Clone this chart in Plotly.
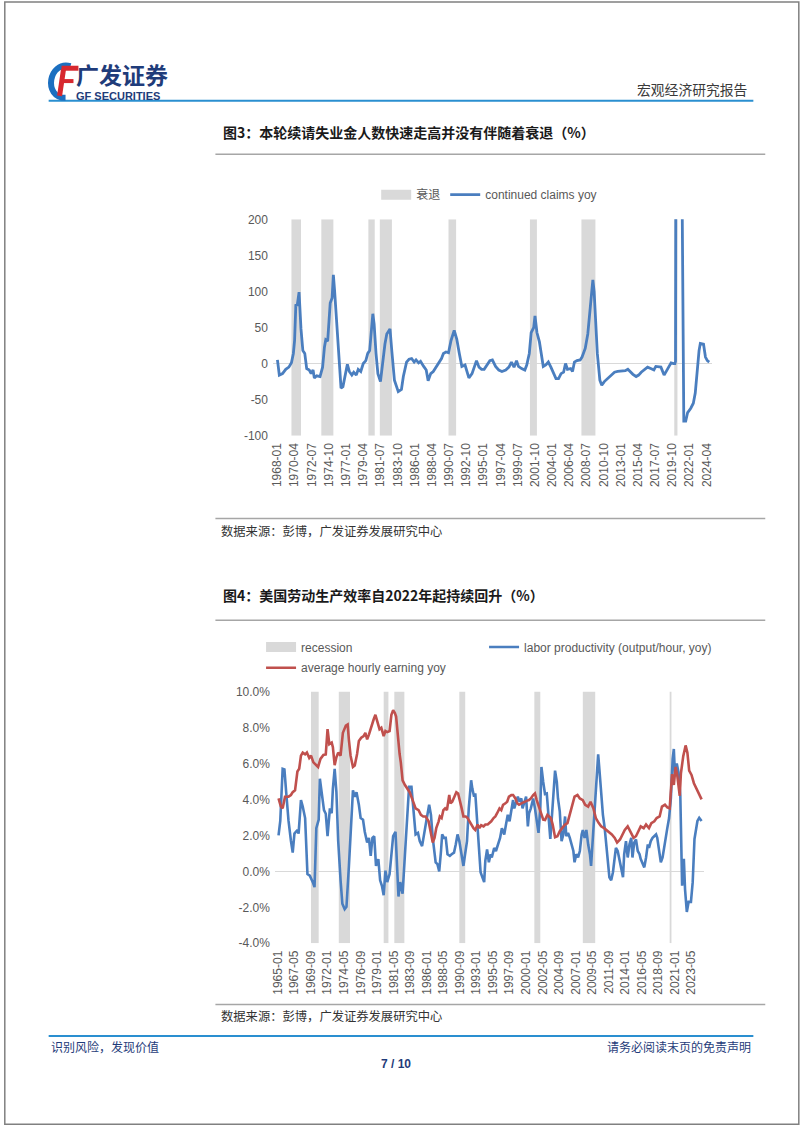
import plotly.graph_objects as go
import pandas as pd

# ---------------- data: chart 1 (continued claims yoy, %) ----------------
claims_dates = [
    "1968-01", "1968-04", "1968-09", "1969-02", "1969-07", "1969-11", "1970-02", "1970-04", "1970-06", "1970-08",
    "1970-11", "1970-12", "1971-02", "1971-05", "1971-08", "1971-11", "1972-03", "1972-06", "1972-09", "1972-11",
    "1973-03", "1973-08", "1973-12", "1974-03", "1974-05", "1974-08", "1974-12", "1975-03", "1975-05", "1975-07",
    "1975-10", "1976-01", "1976-05", "1976-08", "1976-11", "1977-03", "1977-06", "1977-10", "1978-01", "1978-05",
    "1978-08", "1978-12", "1979-04", "1979-08", "1979-11", "1980-02", "1980-07", "1980-09", "1980-12", "1981-03",
    "1981-07", "1981-10", "1982-02", "1982-05", "1982-10", "1983-01", "1983-05", "1983-11", "1984-04", "1984-07",
    "1984-12", "1985-04", "1985-08", "1985-12", "1986-03", "1986-07", "1986-10", "1987-03", "1987-07", "1987-10",
    "1988-02", "1988-06", "1988-10", "1989-02", "1989-07", "1989-10", "1990-02", "1990-06", "1990-10", "1991-03",
    "1991-07", "1991-11", "1992-03", "1992-08", "1992-11", "1993-02", "1993-07", "1993-11", "1994-02", "1994-06",
    "1994-10", "1995-02", "1995-07", "1995-11", "1996-03", "1996-08", "1997-01", "1997-06", "1997-12", "1998-05",
    "1998-09", "1999-01", "1999-05", "1999-08", "2000-01", "2000-06", "2000-09", "2001-01", "2001-04", "2001-08",
    "2001-10", "2002-01", "2002-05", "2002-08", "2002-11", "2003-03", "2003-07", "2003-11", "2004-03", "2004-07",
    "2004-11", "2005-03", "2005-07", "2005-10", "2006-01", "2006-06", "2006-09", "2006-12", "2007-04", "2007-09",
    "2007-12", "2008-05", "2008-09", "2009-01", "2009-03", "2009-05", "2009-07", "2009-09", "2009-12", "2010-04",
    "2010-07", "2010-11", "2011-04", "2011-09", "2012-03", "2012-08", "2013-03", "2013-08", "2013-12", "2014-04",
    "2014-08", "2015-01", "2015-05", "2015-09", "2016-02", "2016-07", "2016-12", "2017-05", "2017-08", "2017-12",
    "2018-04", "2018-09", "2019-01", "2019-05", "2019-08", "2019-12", "2020-02", "2020-03", "2020-04", "2020-05",
    "2020-10", "2020-12", "2021-02", "2021-03", "2021-04", "2021-07", "2021-10", "2022-03", "2022-07", "2022-10",
    "2023-01", "2023-04", "2023-06", "2023-11", "2024-02", "2024-05", "2024-08",
]
claims_yoy = [
    5, -16, -14, -8, -5, 1, 14, 32, 82, 80,
    99, 78, 48, 18, 14, -7, -9, -14, -9, -20,
    -17, -18, -5, 23, 33, 31, 84, 91, 123, 100,
    59, 9, -34, -32, -16, -1, -11, -16, -12, -16,
    -8, -11, 0, 4, 14, 18, 69, 55, 14, -14,
    -25, 0, 27, 41, 48, 16, -23, -39, -36, -18,
    2, 6, 7, 2, 5, 1, 3, -4, -9, -24,
    -14, -11, -5, 0, 7, 14, 16, 15, 32, 46,
    34, 14, -4, -2, -11, -20, -14, -5, 4, -5,
    -8, -8, -2, 4, 5, -4, -9, -11, -9, -5,
    2, -5, 4, -4, -7, -9, -2, 14, 43, 50,
    66, 43, 30, 11, -4, -2, 2, -5, -14, -21,
    -21, -14, -12, 0, -8, -7, -11, 2, 4, 5,
    9, 21, 41, 78, 100, 116, 100, 59, 14, -23,
    -30, -25, -21, -17, -12, -11, -10, -10, -8, -12,
    -15, -18, -16, -12, -8, -5, -7, -9, -4, -5,
    -5, -16, -9, -4, 1, 0, 0, 3, 700, 1000,
    600, 300, 150, 40, -80, -80, -68, -62, -55, -41,
    -9, 18, 28, 27, 9, 4, 2,
]
claims_ticks = [
    "1968-01", "1970-04", "1972-07", "1974-10", "1977-01", "1979-04", "1981-07", "1983-10", "1986-01",
    "1988-04", "1990-07", "1992-10", "1995-01", "1997-04", "1999-07", "2001-10", "2004-01", "2006-04",
    "2008-07", "2010-10", "2013-01", "2015-04", "2017-07", "2019-10", "2022-01", "2024-04",
]
claims_rec_start = ["1969-11", "1973-10", "1979-12", "1981-06", "1990-06", "2001-02", "2007-11", "2020-01"]
claims_rec_end = ["1971-01", "1975-04", "1980-09", "1982-12", "1991-05", "2001-12", "2009-08", "2020-05"]
y1_vals = [-100, -50, 0, 50, 100, 150, 200]
y1_text = ["-100", "-50", "0", "50", "100", "150", "200"]

# ---------------- data: chart 2 (labor productivity & AHE yoy, %) ----------------
prod_dates = [
    "1965-02", "1965-05", "1965-09", "1965-12", "1966-03", "1966-07", "1966-11", "1967-02", "1967-05", "1967-10",
    "1967-12", "1968-04", "1968-07", "1968-11", "1969-03", "1969-07", "1969-12", "1970-03", "1970-06", "1970-10",
    "1970-12", "1971-03", "1971-07", "1971-10", "1972-01", "1972-05", "1972-08", "1972-10", "1973-01", "1973-04",
    "1973-07", "1973-11", "1974-02", "1974-06", "1974-09", "1975-01", "1975-05", "1975-08", "1975-11", "1976-02",
    "1976-06", "1976-09", "1977-01", "1977-04", "1977-08", "1977-11", "1978-02", "1978-05", "1978-08", "1978-11",
    "1979-03", "1979-06", "1979-09", "1979-12", "1980-03", "1980-06", "1980-10", "1981-01", "1981-04", "1981-08",
    "1981-11", "1982-01", "1982-04", "1982-08", "1982-12", "1983-04", "1983-07", "1983-11", "1984-02", "1984-06",
    "1984-10", "1985-01", "1985-05", "1985-07", "1985-10", "1986-01", "1986-05", "1986-08", "1986-11", "1987-02",
    "1987-04", "1987-07", "1987-10", "1988-01", "1988-03", "1988-06", "1988-09", "1988-12", "1989-04", "1989-07",
    "1989-11", "1990-02", "1990-05", "1990-08", "1990-12", "1991-03", "1991-05", "1991-09", "1991-12", "1992-04",
    "1992-06", "1992-09", "1992-11", "1993-02", "1993-05", "1993-08", "1993-12", "1994-02", "1994-04", "1994-07",
    "1994-10", "1995-01", "1995-03", "1995-07", "1995-10", "1996-01", "1996-05", "1996-08", "1996-12", "1997-03",
    "1997-06", "1997-09", "1997-12", "1998-03", "1998-05", "1998-08", "1998-11", "1999-02", "1999-05", "1999-07",
    "1999-10", "2000-01", "2000-04", "2000-06", "2000-09", "2001-01", "2001-04", "2001-07", "2001-10", "2002-01",
    "2002-03", "2002-06", "2002-09", "2002-12", "2003-03", "2003-06", "2003-09", "2003-11", "2004-02", "2004-05",
    "2004-07", "2004-10", "2005-01", "2005-04", "2005-07", "2005-09", "2005-12", "2006-03", "2006-06", "2006-09",
    "2006-11", "2007-02", "2007-05", "2007-08", "2007-11", "2008-01", "2008-04", "2008-07", "2008-10", "2009-01",
    "2009-03", "2009-06", "2009-09", "2009-12", "2010-03", "2010-05", "2010-08", "2010-11", "2011-02", "2011-05",
    "2011-07", "2011-10", "2012-01", "2012-04", "2012-07", "2012-09", "2012-12", "2013-03", "2013-06", "2013-09",
    "2013-11", "2014-02", "2014-05", "2014-08", "2014-11", "2015-01", "2015-04", "2015-07", "2015-10", "2016-01",
    "2016-03", "2016-06", "2016-09", "2016-12", "2017-03", "2017-05", "2017-08", "2017-11", "2018-02", "2018-05",
    "2018-07", "2018-10", "2019-01", "2019-04", "2019-07", "2019-09", "2019-12", "2020-03", "2020-06", "2020-09",
    "2020-11", "2021-01", "2021-04", "2021-07", "2021-10", "2022-01", "2022-04", "2022-06", "2022-09", "2022-12",
    "2023-04", "2023-07", "2023-10", "2024-03", "2024-06", "2024-10",
]
prod_yoy = [
    2.0, 2.8, 5.7, 5.66, 4.4, 2.8, 1.7, 1.04, 2.1, 2.3,
    2.1, 3.96, 3.6, 2.96, -0.15, -0.24, -0.6, -0.88, 2.4, 2.87,
    5.15, 4.4, 3.4, 3.2, 1.95, 3.5, 3.23, 4.6, 5.7, 4.4,
    1.7, -0.5, -1.8, -2.1, -1.97, 0.22, 2.8, 4.5, 4.15, 4.4,
    3.7, 2.96, 2.87, 2.2, 1.6, 1.86, 0.86, 1.86, 1.95, 0.3,
    0.68, -0.5, -0.8, -1.33, 0.04, -0.6, -0.15, 0.95, 1.95, 2.2,
    -0.15, -1.4, -0.6, -1.24, 0.95, 3.3, 4.7, 4.7, 3.5, 2.05,
    2.14, 1.68, 1.4, 1.86, 2.3, 2.96, 3.7, 3.14, 1.86, 1.13,
    0.5, 0.4, 0.0, 1.13, 2.05, 1.86, 1.86, 0.95, 0.86, 0.95,
    1.04, 1.5, 2.05, 1.68, 0.95, 0.3, 0.77, 1.68, 3.5, 5.06,
    4.6, 4.15, 4.33, 2.78, 0.95, -0.05, -0.42, -0.6, 0.58, 1.22,
    0.5, 0.95, 0.77, 1.3, 1.13, 1.5, 1.86, 2.4, 2.05, 2.6,
    3.14, 2.78, 3.3, 3.96, 3.5, 3.87, 4.15, 3.87, 4.05, 3.5,
    3.87, 4.15, 2.5, 3.23, 3.5, 4.05, 3.5, 2.7, 2.14, 3.5,
    5.8, 4.97, 4.3, 4.33, 2.8, 1.8, 3.2, 4.4, 5.6, 4.97,
    4.05, 3.32, 1.68, 2.05, 3.05, 1.95, 2.14, 1.86, 1.5, 1.13,
    0.5, 0.95, 0.77, 1.13, 2.05, 2.3, 1.86, 2.3, 1.5, 0.95,
    0.3, 1.86, 3.14, 4.8, 6.5, 5.7, 4.4, 3.14, 2.4, 1.5,
    0.58, -0.33, -0.5, -0.05, 0.77, 1.3, 1.13, 0.58, 0.04, -0.33,
    0.95, 1.68, 0.77, 1.5, 1.86, 0.77, 1.6, 1.77, 1.13, 0.95,
    0.68, 0.4, 0.22, 0.77, 1.5, 1.3, 1.68, 1.86, 1.95, 2.05,
    1.86, 1.3, 0.5, 0.77, 1.3, 1.86, 2.4, 2.96, 4.05, 6.25,
    6.8, 5.3, 6.0, 5.5, 4.2, -0.8, 0.7, -1.0, -2.26, -1.7,
    -1.7, -0.6, 1.8, 2.8, 2.97, 2.8,
]
ahe_dates = [
    "1965-02", "1965-06", "1965-09", "1966-01", "1966-07", "1966-11", "1967-02", "1967-06", "1967-10", "1968-01",
    "1968-04", "1968-07", "1968-11", "1969-02", "1969-06", "1969-09", "1970-01", "1970-05", "1970-09", "1971-01",
    "1971-06", "1971-10", "1972-01", "1972-04", "1972-08", "1972-10", "1973-01", "1973-04", "1973-07", "1973-11",
    "1974-03", "1974-08", "1974-11", "1975-01", "1975-04", "1975-08", "1975-11", "1976-03", "1976-06", "1976-10",
    "1977-02", "1977-05", "1977-08", "1977-11", "1978-03", "1978-07", "1978-10", "1979-02", "1979-05", "1979-08",
    "1979-12", "1980-03", "1980-06", "1980-10", "1981-01", "1981-04", "1981-07", "1981-09", "1981-12", "1982-03",
    "1982-05", "1982-08", "1982-12", "1983-05", "1983-08", "1984-01", "1984-06", "1984-11", "1985-03", "1985-07",
    "1985-11", "1986-04", "1986-08", "1986-11", "1987-02", "1987-05", "1987-09", "1987-11", "1988-02", "1988-05",
    "1988-08", "1988-11", "1989-03", "1989-05", "1989-08", "1989-12", "1990-03", "1990-06", "1990-09", "1990-12",
    "1991-03", "1991-07", "1991-10", "1992-01", "1992-05", "1992-08", "1992-11", "1993-03", "1993-06", "1993-09",
    "1994-01", "1994-04", "1994-08", "1994-11", "1995-02", "1995-06", "1995-09", "1995-12", "1996-04", "1996-07",
    "1996-10", "1997-02", "1997-05", "1997-08", "1997-12", "1998-03", "1998-07", "1998-10", "1999-01", "1999-05",
    "1999-08", "1999-11", "2000-03", "2000-06", "2000-09", "2001-01", "2001-04", "2001-07", "2001-11", "2002-02",
    "2002-06", "2002-09", "2003-01", "2003-04", "2003-07", "2003-10", "2004-02", "2004-06", "2004-10", "2005-02",
    "2005-07", "2005-11", "2006-03", "2006-07", "2006-11", "2007-04", "2007-08", "2008-01", "2008-05", "2008-10",
    "2009-02", "2009-07", "2009-11", "2010-04", "2010-08", "2011-01", "2011-05", "2011-10", "2012-02", "2012-07",
    "2012-11", "2013-04", "2013-08", "2013-12", "2014-05", "2014-08", "2014-12", "2015-03", "2015-07", "2015-11",
    "2016-03", "2016-08", "2016-12", "2017-05", "2017-09", "2018-02", "2018-06", "2018-11", "2019-03", "2019-08",
    "2019-12", "2020-04", "2020-08", "2020-11", "2021-02", "2021-05", "2021-09", "2021-11", "2022-03", "2022-07",
    "2022-10", "2023-01", "2023-05", "2023-09", "2024-01", "2024-05", "2024-10",
]
ahe_yoy = [
    4.05, 3.6, 3.5, 4.15, 4.15, 4.24, 4.4, 4.5, 5.55, 5.7,
    6.43, 6.6, 6.5, 6.6, 6.3, 6.43, 6.06, 5.9, 5.8, 6.25,
    6.47, 6.5, 7.9, 7.07, 7.16, 6.9, 5.9, 6.34, 6.6, 6.43,
    7.7, 8.1, 8.16, 7.34, 6.43, 5.8, 5.88, 6.52, 7.25, 7.43,
    7.52, 7.7, 7.34, 7.6, 8.07, 8.44, 8.7, 8.25, 7.9, 7.98,
    7.52, 7.8, 7.74, 7.8, 8.7, 8.95, 8.8, 8.6, 7.43, 6.52,
    6.06, 5.06, 4.8, 4.55, 4.4, 3.96, 3.5, 3.4, 3.14, 3.05,
    3.05, 2.78, 2.05, 1.6, 1.86, 2.4, 2.78, 3.05, 2.96, 3.4,
    3.5, 3.4, 4.24, 3.78, 3.87, 4.15, 4.4, 4.33, 3.96, 3.5,
    3.05, 3.05, 2.96, 2.78, 2.6, 2.4, 2.3, 2.6, 2.4, 2.56,
    2.5, 2.6, 2.6, 2.68, 2.78, 2.96, 3.05, 3.23, 3.5, 3.4,
    3.7, 3.78, 3.87, 4.15, 4.24, 4.24, 4.05, 3.78, 3.7, 3.78,
    3.84, 3.87, 3.93, 3.96, 4.05, 4.24, 4.33, 3.96, 3.6, 3.23,
    2.87, 2.85, 3.14, 3.05, 2.96, 2.6, 1.9, 1.95, 2.23, 2.4,
    2.6, 2.68, 3.14, 3.7, 4.15, 4.24, 4.05, 3.96, 3.7, 3.6,
    3.87, 3.5, 2.96, 2.68, 2.5, 2.4, 2.3, 2.14, 2.05, 1.86,
    1.6, 1.77, 2.05, 2.3, 2.5, 2.3, 2.05, 1.86, 1.95, 2.23,
    2.5, 2.4, 2.6, 2.4, 2.68, 2.78, 2.96, 3.05, 3.6, 3.7,
    3.55, 3.5, 5.4, 4.8, 5.8, 5.3, 4.2, 5.45, 6.4, 7.0,
    6.6, 5.6, 5.36, 4.9, 4.6, 4.35, 4.0,
]
prod_ticks = [
    "1965-01", "1967-05", "1969-09", "1972-01", "1974-05", "1976-09", "1979-01", "1981-05", "1983-09",
    "1986-01", "1988-05", "1990-09", "1993-01", "1995-05", "1997-09", "2000-01", "2002-05", "2004-09",
    "2007-01", "2009-05", "2011-09", "2014-01", "2016-05", "2018-09", "2021-01", "2023-05",
]
prod_rec_start = ["1969-09", "1973-08", "1979-12", "1981-06", "1990-08", "2001-03", "2008-01", "2020-04"]
prod_rec_end = ["1970-09", "1975-02", "1980-07", "1982-10", "1991-05", "2001-12", "2009-09", "2020-06"]
y2_vals = [-4, -2, 0, 2, 4, 6, 8, 10]
y2_text = ["-4.0%", "-2.0%", "0.0%", "2.0%", "4.0%", "6.0%", "8.0%", "10.0%"]

# ---------------- helpers ----------------
W, H = 802, 1133


def px(x):
    return x / W


def py(y):
    return 1 - y / H


def to_date(s):
    return s + "-01"


def band_geometry(starts, ends):
    mids, widths = [], []
    for s, e in zip(starts, ends):
        t0 = pd.Timestamp(to_date(s))
        t1 = pd.Timestamp(to_date(e)) + pd.offsets.MonthBegin(1)
        mids.append(t0 + (t1 - t0) / 2)
        widths.append((t1 - t0).total_seconds() * 1000.0)
    return mids, widths


def date_range(d0, p0, d1, p1, left, right):
    t0 = pd.Timestamp(to_date(d0)).value
    t1 = pd.Timestamp(to_date(d1)).value
    per_px = (t1 - t0) / (p1 - p0)
    a = pd.Timestamp(int(t0 - (p0 - left) * per_px))
    b = pd.Timestamp(int(t1 + (right - p1) * per_px))
    return [a.strftime("%Y-%m-%d %H:%M:%S"), b.strftime("%Y-%m-%d %H:%M:%S")]


BLUE = "#4a7ebf"
RED = "#c0504d"
GRAY_BAND = "#d9d9d9"
AXIS_TXT = "#595959"
CJK = "Noto Sans CJK SC, sans-serif"
LAT = "Liberation Sans, Arial, Noto Sans CJK SC, sans-serif"

# plot-area geometry (pixels)
P1_L, P1_R, P1_T, P1_B = 271, 713, 215, 434
P2_L, P2_R, P2_T, P2_B = 273, 705, 693, 948
y1_range = [-100, 200]
y2_range = [-4, 10]

fig = go.Figure()

# ---- chart 1 ----
m1, w1 = band_geometry(claims_rec_start, claims_rec_end)
fig.add_trace(go.Bar(
    x=m1, y=[y1_range[1] - y1_range[0]] * len(m1), base=[y1_range[0]] * len(m1), width=w1,
    marker=dict(color=GRAY_BAND, line=dict(width=0)), showlegend=False, hoverinfo="skip",
    xaxis="x", yaxis="y", name="衰退",
))
fig.add_trace(go.Scatter(
    x=[None], y=[None], mode="lines", line=dict(color=GRAY_BAND, width=11),
    name="衰退", legend="legend", xaxis="x", yaxis="y",
))
fig.add_trace(go.Scatter(
    x=[to_date(d) for d in claims_dates], y=claims_yoy, mode="lines",
    line=dict(color=BLUE, width=2.8), name="continued claims yoy", legend="legend",
    xaxis="x", yaxis="y",
))

# ---- chart 2 ----
m2, w2 = band_geometry(prod_rec_start, prod_rec_end)
fig.add_trace(go.Bar(
    x=m2, y=[y2_range[1] - y2_range[0]] * len(m2), base=[y2_range[0]] * len(m2), width=w2,
    marker=dict(color=GRAY_BAND, line=dict(width=0)), showlegend=False, hoverinfo="skip",
    xaxis="x2", yaxis="y2", name="recession",
))
fig.add_trace(go.Scatter(
    x=[None], y=[None], mode="lines", line=dict(color=GRAY_BAND, width=11),
    name="recession", legend="legend2", legendwidth=178, xaxis="x2", yaxis="y2",
))
fig.add_trace(go.Scatter(
    x=[to_date(d) for d in prod_dates], y=prod_yoy, mode="lines",
    line=dict(color=BLUE, width=2.6), name="labor productivity (output/hour, yoy)", legend="legend2",
    xaxis="x2", yaxis="y2",
))
fig.add_trace(go.Scatter(
    x=[to_date(d) for d in ahe_dates], y=ahe_yoy, mode="lines",
    line=dict(color=RED, width=2.6), name="average hourly earning yoy", legend="legend3",
    xaxis="x2", yaxis="y2",
))

axis_common = dict(showgrid=False, showline=False, ticks="", tickfont=dict(size=12, color=AXIS_TXT, family=LAT))

fig.update_layout(
    width=W, height=H, autosize=False,
    margin=dict(l=0, r=0, t=0, b=0),
    paper_bgcolor="white", plot_bgcolor="rgba(0,0,0,0)",
    font=dict(family=LAT, size=12, color=AXIS_TXT),
    barmode="overlay", hovermode=False, showlegend=True,
    xaxis=dict(
        axis_common, type="date", domain=[px(P1_L), px(P1_R)], anchor="y",
        range=date_range(claims_ticks[0], 275.5, claims_ticks[-1], 708, P1_L, P1_R),
        tickmode="array", tickvals=[to_date(t) for t in claims_ticks], ticktext=claims_ticks,
        tickangle=-90, ticklabelstandoff=4,
    ),
    yaxis=dict(
        axis_common, domain=[py(P1_B), py(P1_T)], anchor="x", range=y1_range,
        tickmode="array", tickvals=y1_vals, ticktext=y1_text,
        zeroline=True, zerolinecolor="#d9d9d9", zerolinewidth=1, ticklabelstandoff=4,
    ),
    xaxis2=dict(
        axis_common, type="date", domain=[px(P2_L), px(P2_R)], anchor="y2",
        range=date_range(prod_ticks[0], 276, prod_ticks[-1], 692.7, P2_L, P2_R),
        tickmode="array", tickvals=[to_date(t) for t in prod_ticks], ticktext=prod_ticks,
        tickangle=-90, ticklabelstandoff=4,
    ),
    yaxis2=dict(
        axis_common, domain=[py(P2_B), py(P2_T)], anchor="x2", range=y2_range,
        tickmode="array", tickvals=y2_vals, ticktext=y2_text,
        zeroline=True, zerolinecolor="#d9d9d9", zerolinewidth=1, ticklabelstandoff=4,
    ),
    legend=dict(orientation="h", x=px(375), y=py(190), xanchor="left", yanchor="middle",
                bgcolor="rgba(0,0,0,0)", font=dict(size=12, color=AXIS_TXT, family=LAT)),
    legend2=dict(orientation="h", x=px(259), y=py(648), xanchor="left", yanchor="middle",
                 bgcolor="rgba(0,0,0,0)", font=dict(size=12, color=AXIS_TXT, family=LAT)),
    legend3=dict(orientation="h", x=px(259), y=py(669), xanchor="left", yanchor="middle",
                 bgcolor="rgba(0,0,0,0)", font=dict(size=12, color=AXIS_TXT, family=LAT)),
)

# ---------------- page decoration ----------------
def hline(y, x0, x1, color, width):
    fig.add_shape(type="line", xref="paper", yref="paper", x0=px(x0), x1=px(x1), y0=py(y), y1=py(y),
                  line=dict(color=color, width=width))


# page border
fig.add_shape(type="rect", xref="paper", yref="paper", x0=px(0.8), x1=px(800.8), y0=py(1131.2), y1=py(-5),
              line=dict(color="#808080", width=1.5), fillcolor="rgba(0,0,0,0)")
hline(95, 45, 755, "#2a8fd0", 2)
hline(1042, 45, 755, "#2a8fd0", 2)
for yy in (149, 518, 621, 1010):
    hline(yy, 213, 767, "#a6a6a6", 1.5)


def path_px(cmds):
    out = []
    for c in cmds:
        if isinstance(c, str):
            out.append(c)
        else:
            out.append(f"{px(c[0]):.5f},{py(c[1]):.5f}")
    return " ".join(out)


# logo icon
fig.add_shape(type="path", xref="paper", yref="paper",
              path=path_px(["M", (67, 60), "C", (45, 54), (39, 92), (62, 92)]),
              line=dict(color="#1b6fc0", width=6))
fig.add_shape(type="path", xref="paper", yref="paper",
              path=path_px(["M", (60, 63), "L", (56, 90)]), line=dict(color="#d7282f", width=5))
fig.add_shape(type="path", xref="paper", yref="paper",
              path=path_px(["M", (58, 62), "L", (75, 62)]), line=dict(color="#d7282f", width=5))
fig.add_shape(type="path", xref="paper", yref="paper",
              path=path_px(["M", (58, 75), "L", (70, 75)]), line=dict(color="#d7282f", width=4))


def text(x, y, s, size, color, family=CJK, anchor="left"):
    fig.add_annotation(x=px(x), y=py(y), xref="paper", yref="paper", text=s, showarrow=False,
                       xanchor=anchor, yanchor="middle", font=dict(size=size, color=color, family=family))


NAVY = "#1f3c7a"
text(71, 67.5, "<b>广发证券</b>", 23, NAVY)
text(71, 90.5, "<b>GF SECURITIES</b>", 11, NAVY, family=LAT)
text(751, 83, "宏观经济研究报告", 13.8, "#3a3a3a", anchor="right")

text(219, 127, "<b>图3：本轮续请失业金人数快速走高并没有伴随着衰退（%）</b>", 14, "#1a1a1a")
text(217, 531, "数据来源：彭博，广发证券发展研究中心", 12.3, "#333333")
text(219, 595, "<b>图4：美国劳动生产效率自2022年起持续回升（%）</b>", 14, "#1a1a1a")
text(217, 1022, "数据来源：彭博，广发证券发展研究中心", 12.3, "#333333")

text(45, 1053, "识别风险，发现价值", 12, NAVY)
text(755, 1053, "请务必阅读末页的免责声明", 12, NAVY, anchor="right")
text(395, 1070, "<b>7 / 10</b>", 12, NAVY, family=LAT, anchor="center")

fig.write_html(
    "out.html",
    config={"displayModeBar": False, "staticPlot": True},
    post_script="document.body.style.margin='0px';document.body.style.overflow='hidden';",
)
